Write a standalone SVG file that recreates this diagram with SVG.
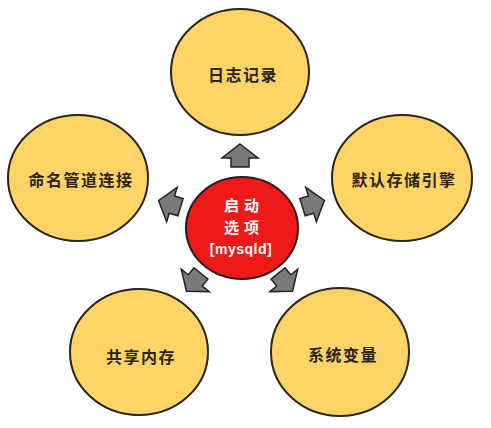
<svg xmlns="http://www.w3.org/2000/svg" width="491" height="428" viewBox="0 0 491 428">
<style>
.sat{fill:#FFD466;stroke:#2a2418;stroke-width:2}
.hub{fill:#EE1A1A;stroke:#2a1a1a;stroke-width:2}
.lbl{font-family:"Noto Sans CJK SC","Liberation Sans",sans-serif;font-weight:bold;font-size:16px;letter-spacing:1.5px;fill:#2a2418;text-anchor:middle}
.hubt{font-family:"Noto Sans CJK SC","Liberation Sans",sans-serif;font-weight:bold;font-size:15px;letter-spacing:5px;fill:#ffffff;text-anchor:middle}
.hubm{font-family:"Liberation Sans","Noto Sans CJK SC",sans-serif;font-weight:bold;font-size:14px;letter-spacing:0.5px;fill:#ffffff;text-anchor:middle}
.arr{fill:#7a7a7a;stroke:#222;stroke-width:1.5;stroke-linejoin:miter}
</style>
<defs>
<path id="blk" d="M0,-12 L18,2 L9,2 L9,11 L-9,11 L-9,2 L-18,2 Z"/>
</defs>
<rect width="491" height="428" fill="#ffffff"/>
<g id="connectors">
<use href="#blk" class="arr" transform="translate(240,156)"/>
<use href="#blk" class="arr" transform="translate(170,204) rotate(-73)"/>
<use href="#blk" class="arr" transform="translate(313,204) rotate(73)"/>
<use href="#blk" class="arr" transform="translate(194,282) rotate(-141)"/>
<use href="#blk" class="arr" transform="translate(285,282) rotate(141)"/>
</g>
<g id="node-log">
<ellipse class="sat" cx="240" cy="72" rx="69" ry="63"/>
<text class="lbl" x="243" y="80.5">日志记录</text>
</g>
<g id="node-pipe">
<ellipse class="sat" cx="78" cy="178" rx="70" ry="63"/>
<text class="lbl" x="81" y="186">命名管道连接</text>
</g>
<g id="node-engine">
<ellipse class="sat" cx="402" cy="178" rx="70" ry="63"/>
<text class="lbl" x="404" y="186">默认存储引擎</text>
</g>
<g id="node-shm">
<ellipse class="sat" cx="139" cy="352" rx="69" ry="63"/>
<text class="lbl" x="141" y="363">共享内存</text>
</g>
<g id="node-sysvar">
<ellipse class="sat" cx="340" cy="352" rx="69" ry="64"/>
<text class="lbl" x="343" y="361">系统变量</text>
</g>
<g id="node-center">
<ellipse class="hub" cx="242" cy="228" rx="56" ry="51"/>
<text class="hubt" x="244" y="211">启动</text>
<text class="hubt" x="244" y="233">选项</text>
<text class="hubm" x="241" y="254">[mysqld]</text>
</g>
</svg>
